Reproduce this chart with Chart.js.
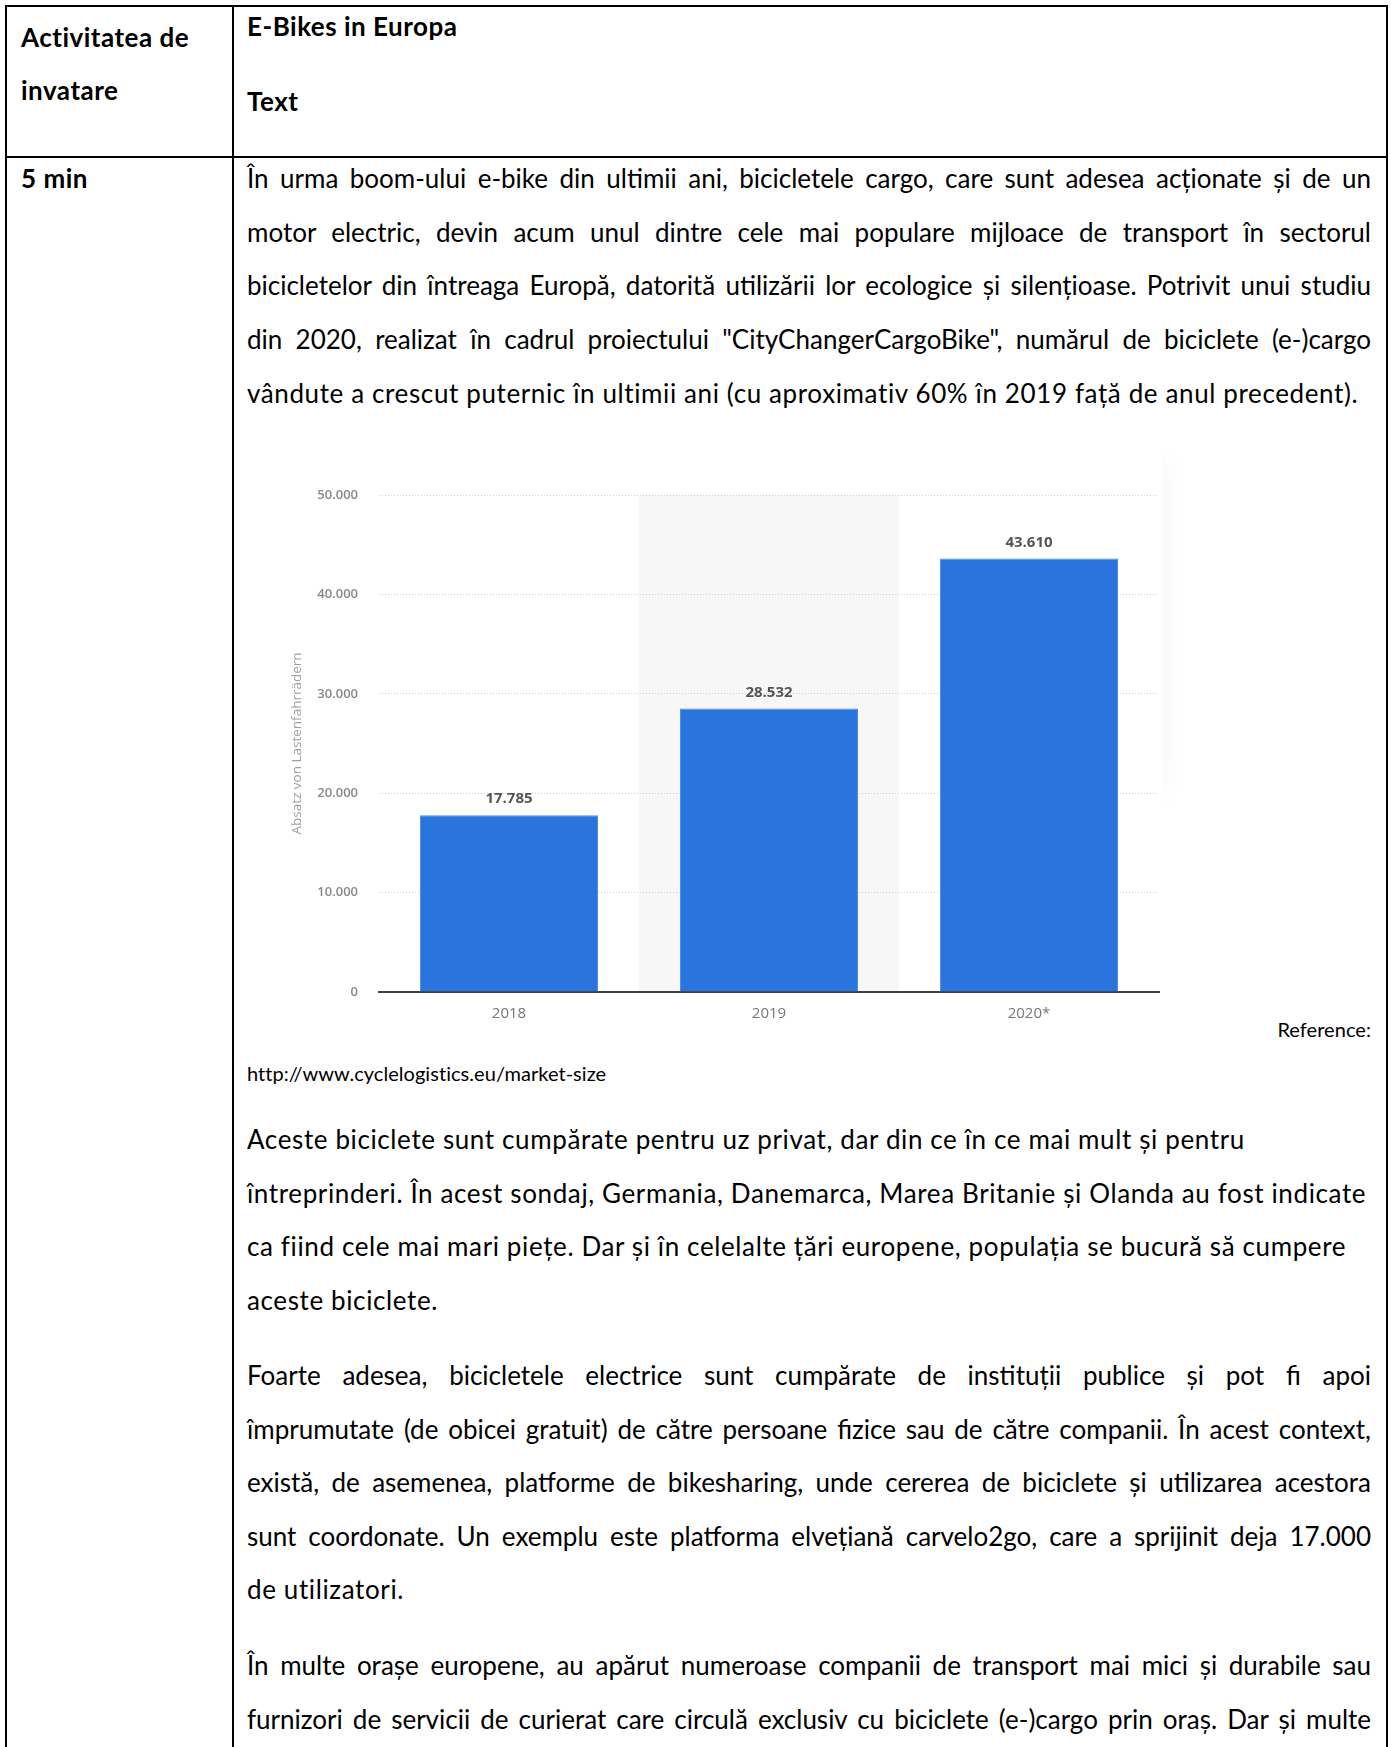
<!DOCTYPE html>
<html>
<head>
<meta charset="utf-8">
<script src="https://cdn.jsdelivr.net/npm/chart.js@4/dist/chart.umd.min.js"></script>
<style>
  body { margin: 0; background: #fff; }
  #page { position: relative; width: 1391px; height: 1747px; overflow: hidden; font-family: Lato, "Noto Sans", sans-serif; color: #000; }
  .ln { position: absolute; height: 54px; line-height: 54px; font-size: 26px; letter-spacing: 0.62px; white-space: nowrap; }
  .b { font-weight: bold; letter-spacing: 0.5px; }
  .txt { left: 247px; width: 1124px; }
  .just { text-align: justify; text-align-last: justify; white-space: normal; letter-spacing: 0; }
  .hl { position: absolute; background: #000; }
  .small { font-size: 20px; letter-spacing: 0.05px; }
  #chartBox { position: absolute; left: 260px; top: 460px; width: 920px; height: 580px; }
  #shade { position: absolute; left: 1162px; top: 445px; width: 22px; height: 370px;
           background: linear-gradient(to right, rgba(0,0,0,0.02), rgba(0,0,0,0));
           -webkit-mask-image: linear-gradient(to bottom, transparent, #000 10%, #000 85%, transparent); }
</style>
</head>
<body>
<div id="page">
  <!-- table lines -->
  <div class="hl" style="left:5px;top:5px;width:1383px;height:2px"></div>
  <div class="hl" style="left:5px;top:156px;width:1383px;height:2px"></div>
  <div class="hl" style="left:5px;top:5px;width:2px;height:1742px"></div>
  <div class="hl" style="left:232px;top:5px;width:2px;height:1742px"></div>
  <div class="hl" style="left:1386px;top:5px;width:2px;height:1742px"></div>

  <div class="ln b" style="left:21px;top:10px">Activitatea de</div>
  <div class="ln b" style="left:21px;top:63px">invatare</div>
  <div class="ln b" style="left:247px;top:-1px">E-Bikes in Europa</div>
  <div class="ln b" style="left:247px;top:74px">Text</div>
  <div class="ln b" style="left:21px;top:151px">5 min</div>

  <div class="ln txt just" style="top:151px">În urma boom-ului e-bike din ultimii ani, bicicletele cargo, care sunt adesea acționate și de un</div>
  <div class="ln txt just" style="top:205px">motor electric, devin acum unul dintre cele mai populare mijloace de transport în sectorul</div>
  <div class="ln txt just" style="top:258px">bicicletelor din întreaga Europă, datorită utilizării lor ecologice și silențioase. Potrivit unui studiu</div>
  <div class="ln txt just" style="top:312px">din 2020, realizat în cadrul proiectului "CityChangerCargoBike", numărul de biciclete (e-)cargo</div>
  <div class="ln txt" style="top:366px">vândute a crescut puternic în ultimii ani (cu aproximativ 60% în 2019 față de anul precedent).</div>

  <div id="shade"></div>
  <div id="chartBox"><canvas id="myChart" width="920" height="580"></canvas></div>

  <div class="ln small" style="right:20px;top:1002px">Reference:</div>
  <div class="ln small" style="left:247px;top:1046px">http://www.cyclelogistics.eu/market-size</div>

  <div class="ln txt" style="top:1112px">Aceste biciclete sunt cumpărate pentru uz privat, dar din ce în ce mai mult și pentru</div>
  <div class="ln txt" style="top:1166px">întreprinderi. În acest sondaj, Germania, Danemarca, Marea Britanie și Olanda au fost indicate</div>
  <div class="ln txt" style="top:1219px">ca fiind cele mai mari piețe. Dar și în celelalte țări europene, populația se bucură să cumpere</div>
  <div class="ln txt" style="top:1273px">aceste biciclete.</div>

  <div class="ln txt just" style="top:1348px">Foarte adesea, bicicletele electrice sunt cumpărate de instituții publice și pot fi apoi</div>
  <div class="ln txt just" style="top:1402px">împrumutate (de obicei gratuit) de către persoane fizice sau de către companii. În acest context,</div>
  <div class="ln txt just" style="top:1455px">există, de asemenea, platforme de bikesharing, unde cererea de biciclete și utilizarea acestora</div>
  <div class="ln txt just" style="top:1509px">sunt coordonate. Un exemplu este platforma elvețiană carvelo2go, care a sprijinit deja 17.000</div>
  <div class="ln txt" style="top:1562px">de utilizatori.</div>

  <div class="ln txt just" style="top:1638px">În multe orașe europene, au apărut numeroase companii de transport mai mici și durabile sau</div>
  <div class="ln txt just" style="top:1692px">furnizori de servicii de curierat care circulă exclusiv cu biciclete (e-)cargo prin oraș. Dar și multe</div>
</div>

<script>
// data
var years = ['2018', '2019', '2020*'];
var sales = [17785, 28532, 43610];
var yMin = 0;
var yMax = 50000;
var yStep = 10000;
var shadedYear = '2019';
var yTitle = 'Absatz von Lastenfahrrädern';

function fmt(v) {
    return String(v).replace(/\B(?=(\d{3})+(?!\d))/g, '.');
}

// grey band behind one category
var bandPlugin = {
    id: 'band',
    beforeDraw: function (chart) {
        var x = chart.scales.x, area = chart.chartArea, c = chart.ctx;
        var i = years.indexOf(shadedYear);
        var w = (x.right - x.left) / years.length;
        var cx = x.getPixelForValue(i);
        c.save();
        c.fillStyle = '#f7f7f7';
        c.fillRect(cx - w / 2, area.top, w, area.bottom - area.top);
        c.restore();
    }
};

// value labels over the bars
var valuePlugin = {
    id: 'values',
    afterDatasetsDraw: function (chart) {
        var c = chart.ctx;
        var meta = chart.getDatasetMeta(0);
        c.save();
        c.font = 'bold 15px "Open Sans", sans-serif';
        c.fillStyle = '#555';
        c.textAlign = 'center';
        c.textBaseline = 'middle';
        meta.data.forEach(function (bar, i) {
            c.fillText(fmt(sales[i]), bar.x, bar.y - 16);
        });
        c.restore();
    }
};

var ctx = document.getElementById('myChart');
new Chart(ctx, {
    type: 'bar',
    data: {
        labels: years,
        datasets: [
            {
                label: yTitle,
                data: sales,
                backgroundColor: '#2975dd',
                borderColor: '#4a8be6',
                borderWidth: 1,
                barPercentage: 0.685,
                categoryPercentage: 1
            }
        ]
    },
    options: {
        responsive: false,
        animation: false,
        layout: { padding: { top: 35, right: 21, left: 0, bottom: 0 } },
        plugins: {
            legend: { display: false },
            tooltip: { enabled: false }
        },
        scales: {
            x: {
                afterFit: function (s) { s.height = 48; },
                grid: { display: false },
                border: { display: true, color: '#3f3f3f', width: 2 },
                ticks: { color: '#777', padding: 5, font: { family: 'Open Sans', size: 15 } }
            },
            y: {
                min: yMin,
                max: yMax,
                afterFit: function (s) { s.width = 119; },
                grid: { color: '#cfcfcf', lineWidth: 1, drawTicks: false },
                border: { display: false, dash: [1, 2] },
                ticks: {
                    stepSize: yStep,
                    padding: 21,
                    color: '#888',
                    font: { family: 'Open Sans', size: 13, weight: '600' },
                    callback: function (v) { return fmt(v); }
                },
                title: {
                    display: true,
                    text: yTitle,
                    color: '#a0a0a0',
                    font: { family: 'Open Sans', size: 13.5 },
                    padding: { top: 29, bottom: 0 }
                }
            }
        }
    },
    plugins: [bandPlugin, valuePlugin]
});
</script>
</body>
</html>
